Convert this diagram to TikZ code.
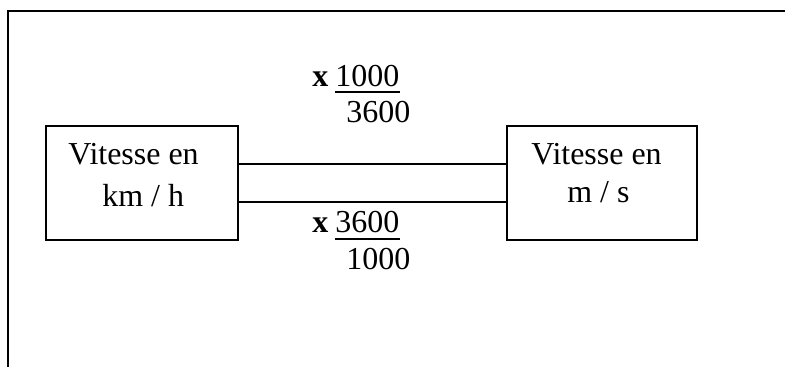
\documentclass[tikz,border=0pt]{standalone}
\usepackage{fontspec}
\setmainfont{Liberation Serif}
\usetikzlibrary{positioning}

\begin{document}
\begin{tikzpicture}[
  x=0.02cm, y=-0.02cm,
  font=\fontsize{18.2}{22}\selectfont,
  unitbox/.style={draw, line width=1.1pt, minimum width=3.84cm, minimum height=2.28cm, inner sep=0pt},
  txt/.style={anchor=base west, inner sep=0pt},
  link/.style={line width=1.1pt},
  bar/.style={line width=1.2pt},
]
\useasboundingbox (0,0) rectangle (785,367);
% frame (only top and left edges visible)
\draw[line width=1.4pt] (8,367) -- (8,11) -- (785,11);
% the two boxes
\node[unitbox] (kmh) at (142,183) {};
\node[unitbox, minimum width=3.8cm] (ms) at (602,183) {};
\node[txt] (kmh1) at (68,165) {Vitesse en};
\node[txt] (kmh2) at (102,207) {km / h};
\node[txt] (ms1) at (531,165) {Vitesse en};
\node[txt] (ms2) at (567,203) {m / s};
% connecting lines
\draw[link] ([yshift=0.38cm]kmh.east) -- ([yshift=0.38cm]ms.west);
\draw[link] ([yshift=-0.38cm]kmh.east) -- ([yshift=-0.38cm]ms.west);
% factor kmh -> ms
\node[txt] (xa) at (312,87) {\textbf{x}};
\node[txt] (numa) at (335,87) {1000};
\node[txt] (dena) at (346,123) {3600};
\draw[bar] (numa.base west) ++(0,5) -- ++(65,0);
% factor ms -> kmh
\node[txt] (xb) at (312,233) {\textbf{x}};
\node[txt] (numb) at (335,233) {3600};
\node[txt] (denb) at (346,270) {1000};
\draw[bar] (numb.base west) ++(0,6) -- ++(65,0);
\end{tikzpicture}
\end{document}
